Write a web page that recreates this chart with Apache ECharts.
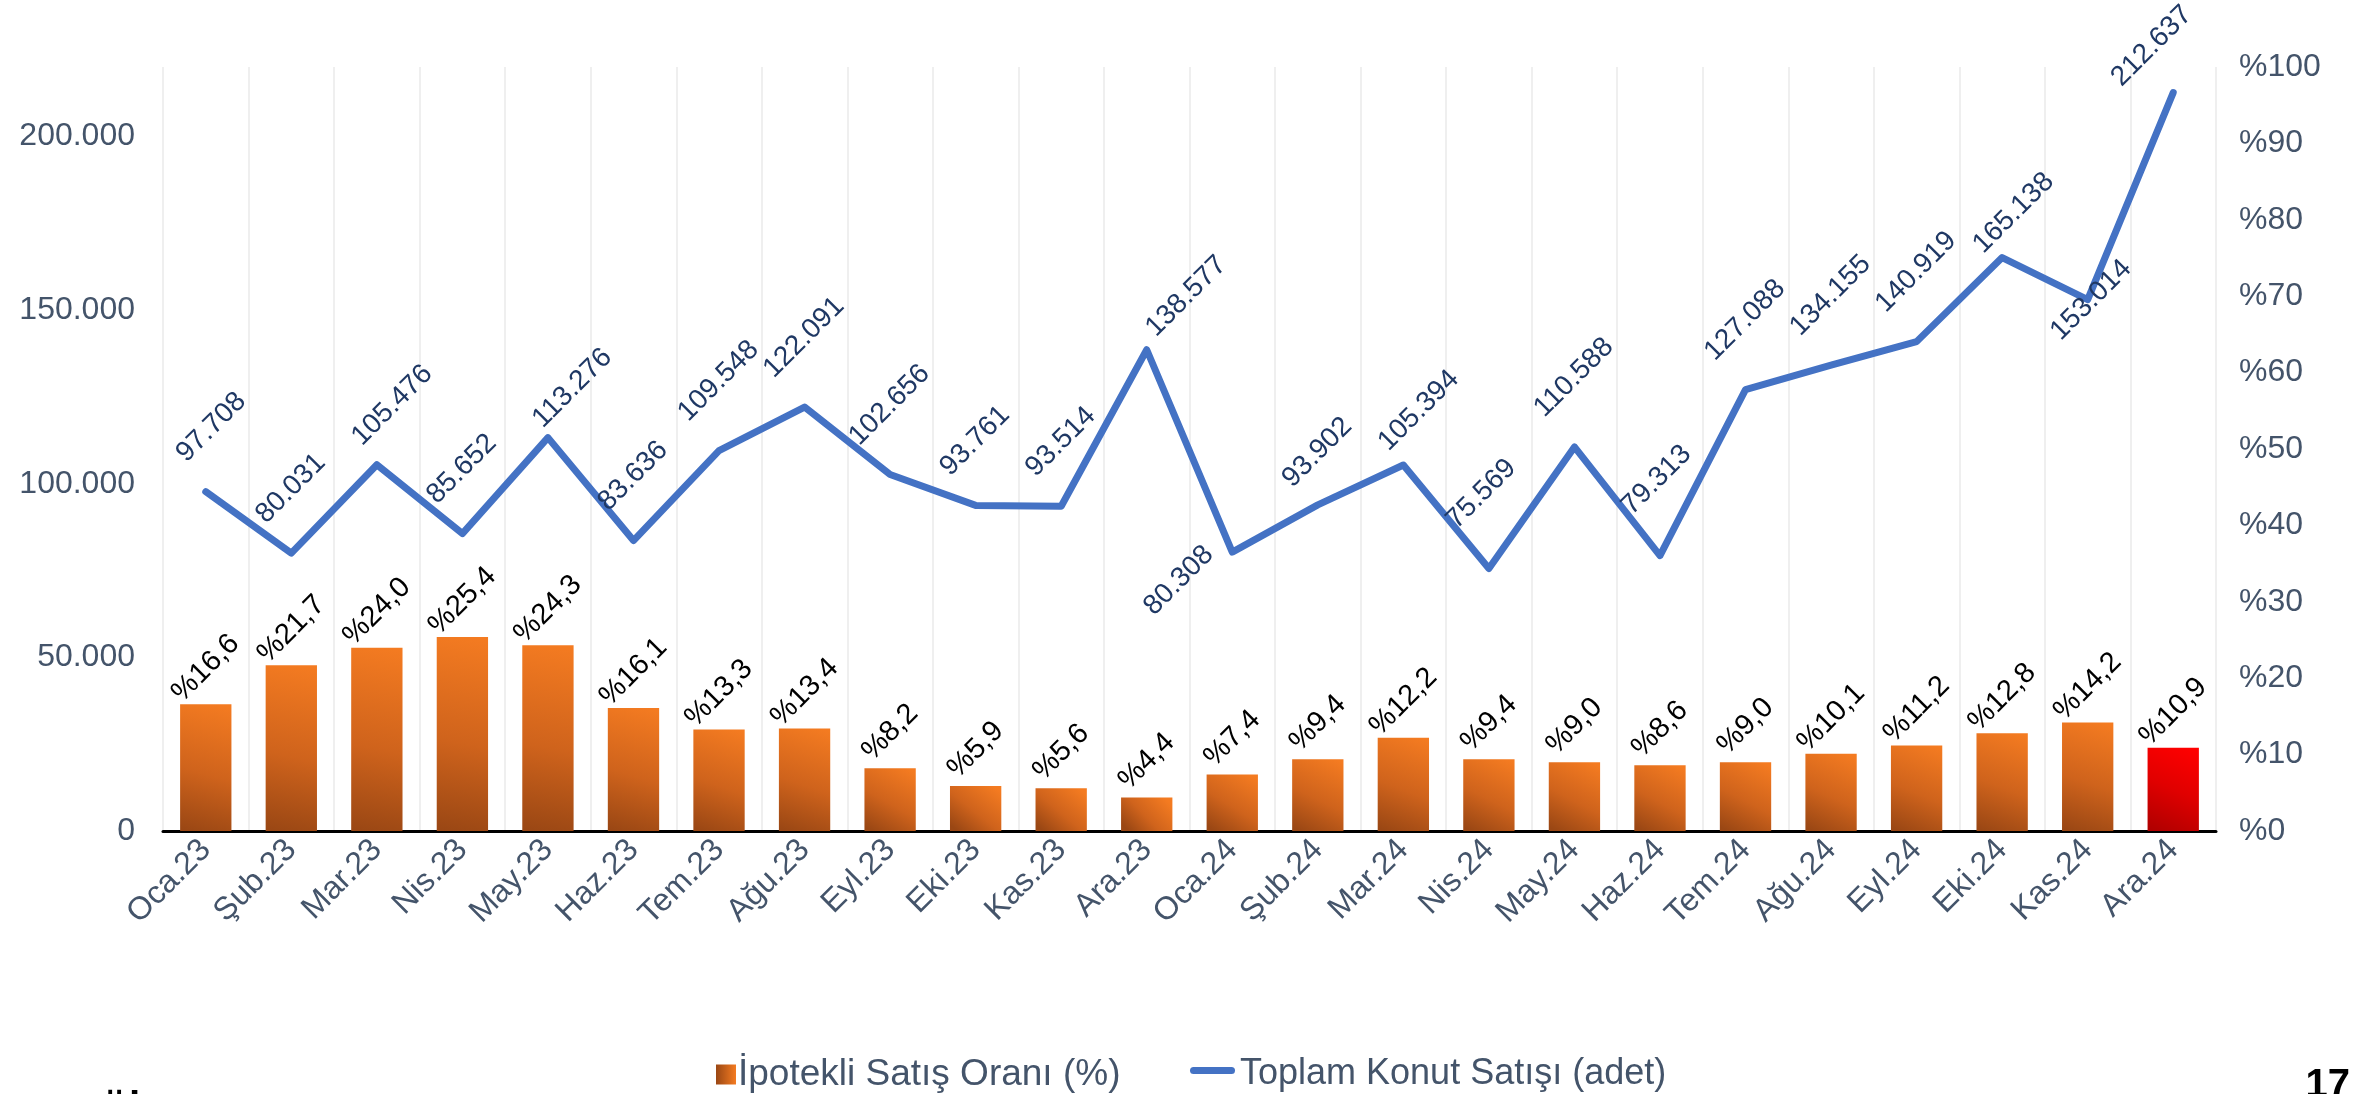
<!DOCTYPE html>
<html>
<head>
<meta charset="utf-8">
<script src="https://cdn.jsdelivr.net/npm/echarts@6/dist/echarts.min.js"></script>
<style>
  html, body { margin: 0; padding: 0; background: #fff; }
  #chart { width: 2356px; height: 1094px; }
</style>
</head>
<body>
<div id="chart"></div>
<script>
const categories = ['Oca.23','Şub.23','Mar.23','Nis.23','May.23','Haz.23','Tem.23','Ağu.23','Eyl.23','Eki.23','Kas.23','Ara.23',
                    'Oca.24','Şub.24','Mar.24','Nis.24','May.24','Haz.24','Tem.24','Ağu.24','Eyl.24','Eki.24','Kas.24','Ara.24'];
const mortgageShare = [16.6,21.7,24.0,25.4,24.3,16.1,13.3,13.4,8.2,5.9,5.6,4.4,
                       7.4,9.4,12.2,9.4,9.0,8.6,9.0,10.1,11.2,12.8,14.2,10.9];
const totalSales = [97708,80031,105476,85652,113276,83636,109548,122091,102656,93761,93514,138577,
                    80308,93902,105394,75569,110588,79313,127088,134155,140919,165138,153014,212637];
const seriesNames = ['İpotekli Satış Oranı (%)', 'Toplam Konut Satışı (adet)'];
const sourceText = 'Kaynak: TÜİK';
const pageNumber = '17';

const FONT = 'Liberation Sans';
const AXIS_COLOR = '#44546A';

function thousands(v) {
  return String(Math.round(v)).replace(/\B(?=(\d{3})+(?!\d))/g, '.');
}

const orangeGrad = new echarts.graphic.LinearGradient(0.15, 1, 0.85, 0, [
  { offset: 0, color: '#9A4714' },
  { offset: 0.45, color: '#CF631C' },
  { offset: 1, color: '#F47B21' }
]);
const redGrad = new echarts.graphic.LinearGradient(0.15, 1, 0.85, 0, [
  { offset: 0, color: '#B00000' },
  { offset: 0.5, color: '#E00000' },
  { offset: 1, color: '#FF0000' }
]);
const legendGrad = new echarts.graphic.LinearGradient(0, 0, 1, 0, [
  { offset: 0, color: '#9A4714' },
  { offset: 1, color: '#F47B21' }
]);

const lastIdx = categories.length - 1;
const barData = mortgageShare.map((v, i) => i === lastIdx ? { value: v, itemStyle: { color: redGrad } } : v);

// line label layout: default centre above the point, plus manual nudges (layout only)
const lineLabelNudge = {
  0: [6, 0],
  2: [16, 10],
  4: [25, 20],
  11: [40, 16],
  12: [-53, 93],
  13: [0, 12],
  14: [16, 15],
  15: [-7, -10],
  17: [-3, -11],
  21: [12, 25],
  22: [4, 70],
  23: [-21, 23]
};
const lineData = totalSales.map((v, i) => {
  const txt = thousands(v);
  const dist = txt.length >= 7 ? 69 : 64;
  const n = lineLabelNudge[i] || [0, 0];
  return { value: v, label: { position: [n[0], -dist + n[1]] } };
});

const chart = echarts.init(document.getElementById('chart'), null, { renderer: 'canvas' });
chart.setOption({
  animation: false,
  backgroundColor: '#ffffff',
  textStyle: { fontFamily: FONT },
  grid: { left: 163, right: 140, top: 67, bottom: 263, containLabel: false },
  legend: [
    {
      data: [{ name: seriesNames[0], itemStyle: { color: legendGrad } }],
      left: 711, top: 1051,
      icon: 'rect', itemWidth: 20, itemHeight: 20,
      textStyle: { fontFamily: FONT, fontSize: 37, color: AXIS_COLOR, padding: [0, 0, 0, -3] }
    },
    {
      data: [seriesNames[1]],
      left: 1190, top: 1051,
      itemWidth: 42, itemHeight: 20,
      itemStyle: { opacity: 0 },
      lineStyle: { opacity: 0 },
      textStyle: { fontFamily: FONT, fontSize: 36, color: AXIS_COLOR, padding: [0, 0, 0, -3] }
    }
  ],
  xAxis: {
    type: 'category',
    data: categories,
    boundaryGap: true,
    axisLine: { show: true, lineStyle: { color: '#000000', width: 3 } },
    axisTick: { show: false },
    axisLabel: { rotate: 45, margin: 14, fontFamily: FONT, fontSize: 32, color: AXIS_COLOR, interval: 0 },
    splitLine: { show: true, interval: 0, lineStyle: { color: '#EFEFEF', width: 2 } }
  },
  yAxis: [
    {
      type: 'value', min: 0, max: 220000, interval: 50000, position: 'left',
      axisLine: { show: false }, axisTick: { show: false }, splitLine: { show: false },
      axisLabel: { showMaxLabel: false, margin: 28, fontFamily: FONT, fontSize: 32, color: AXIS_COLOR,
                   formatter: v => v === 0 ? '0' : thousands(v) }
    },
    {
      type: 'value', min: 0, max: 100, interval: 10, position: 'right',
      axisLine: { show: false }, axisTick: { show: false }, splitLine: { show: false },
      axisLabel: { margin: 23, fontFamily: FONT, fontSize: 32, color: AXIS_COLOR, formatter: v => '%' + v }
    }
  ],
  series: [
    {
      name: seriesNames[0],
      type: 'bar',
      yAxisIndex: 1,
      data: barData,
      barWidth: '60%',
      itemStyle: { color: orangeGrad },
      label: {
        show: true, position: 'top', distance: 36, rotate: 45,
        align: 'center', verticalAlign: 'middle',
        fontFamily: FONT, fontSize: 29, color: '#000000',
        formatter: p => '%' + Number(p.value).toFixed(1).replace('.', ',')
      },
      z: 2
    },
    {
      name: seriesNames[1],
      type: 'line',
      yAxisIndex: 0,
      data: lineData,
      showSymbol: true,
      symbol: 'circle',
      symbolSize: 1,
      lineStyle: { color: '#4472C4', width: 7, cap: 'round', join: 'round' },
      itemStyle: { color: 'rgba(68,114,196,0)' },
      label: {
        show: true, rotate: 45,
        align: 'center', verticalAlign: 'middle',
        fontFamily: FONT, fontSize: 28, color: '#1F3864',
        formatter: p => thousands(p.value)
      },
      labelLayout: { hideOverlap: false },
      z: 3
    }
  ],
  graphic: [
    {
      type: 'line', left: 1190, top: 1067,
      shape: { x1: 0, y1: 0, x2: 38, y2: 0 },
      style: { stroke: '#4472C4', lineWidth: 7, lineCap: 'round' }, z: 10
    },
    {
      type: 'text', right: 6, top: 1066,
      style: { text: pageNumber, font: 'bold 40px "Liberation Sans"', fill: '#000000' }
    },
    {
      type: 'text', left: -91, top: 1094,
      style: { text: sourceText, font: 'bold 40px "Liberation Sans"', fill: '#000000' }
    }
  ]
});
</script>
</body>
</html>
